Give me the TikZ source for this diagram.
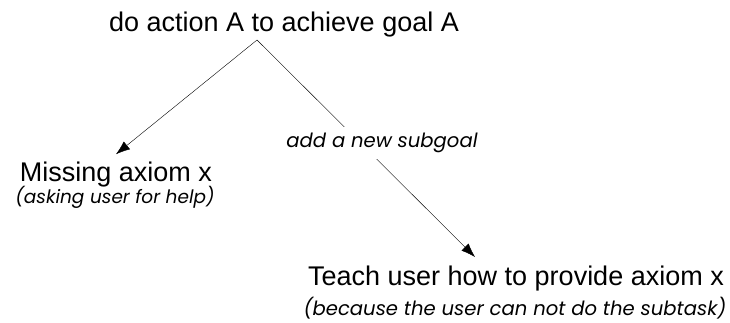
\documentclass[tikz,border=0pt]{standalone}
\usepackage{fontspec}
\setmainfont{Liberation Sans}
\newfontfamily\notefont{Poppins}
\usetikzlibrary{arrows.meta}
\tikzset{>={Latex[length=14pt,width=10pt]}}

\begin{document}
\begin{tikzpicture}[x=1pt,y=-1pt,font=\fontsize{27}{32}\selectfont]

\tikzstyle{goal}=[inner sep=0pt,anchor=base]
\tikzstyle{note}=[inner sep=0pt,anchor=base,font=\notefont\itshape\fontsize{19.6}{23}\selectfont]

\useasboundingbox (0,0) rectangle (730,323);

\node[goal] (top) at (284,32) {do action A to achieve goal A};
\node[goal] (miss) at (116,182) {Missing axiom x};
\node[note,font=\notefont\itshape\fontsize{18.5}{22}\selectfont] (missnote) at (115,204) {(asking user for help)};
\node[goal] (teach) at (516,285) {Teach user how to provide axiom x};
\node[note] (teachnote) at (515,315) {(because the user can not do the subtask)};

\coordinate (apex) at (257,40);
\coordinate (tip) at (475,257);

\draw[->] (apex) -- ([yshift=8pt]miss.north);
\draw[->] (apex) -- (tip);
\node[note,fill=white,inner sep=6pt] (sub) at (382,148) {add a new subgoal};
\end{tikzpicture}
\end{document}
